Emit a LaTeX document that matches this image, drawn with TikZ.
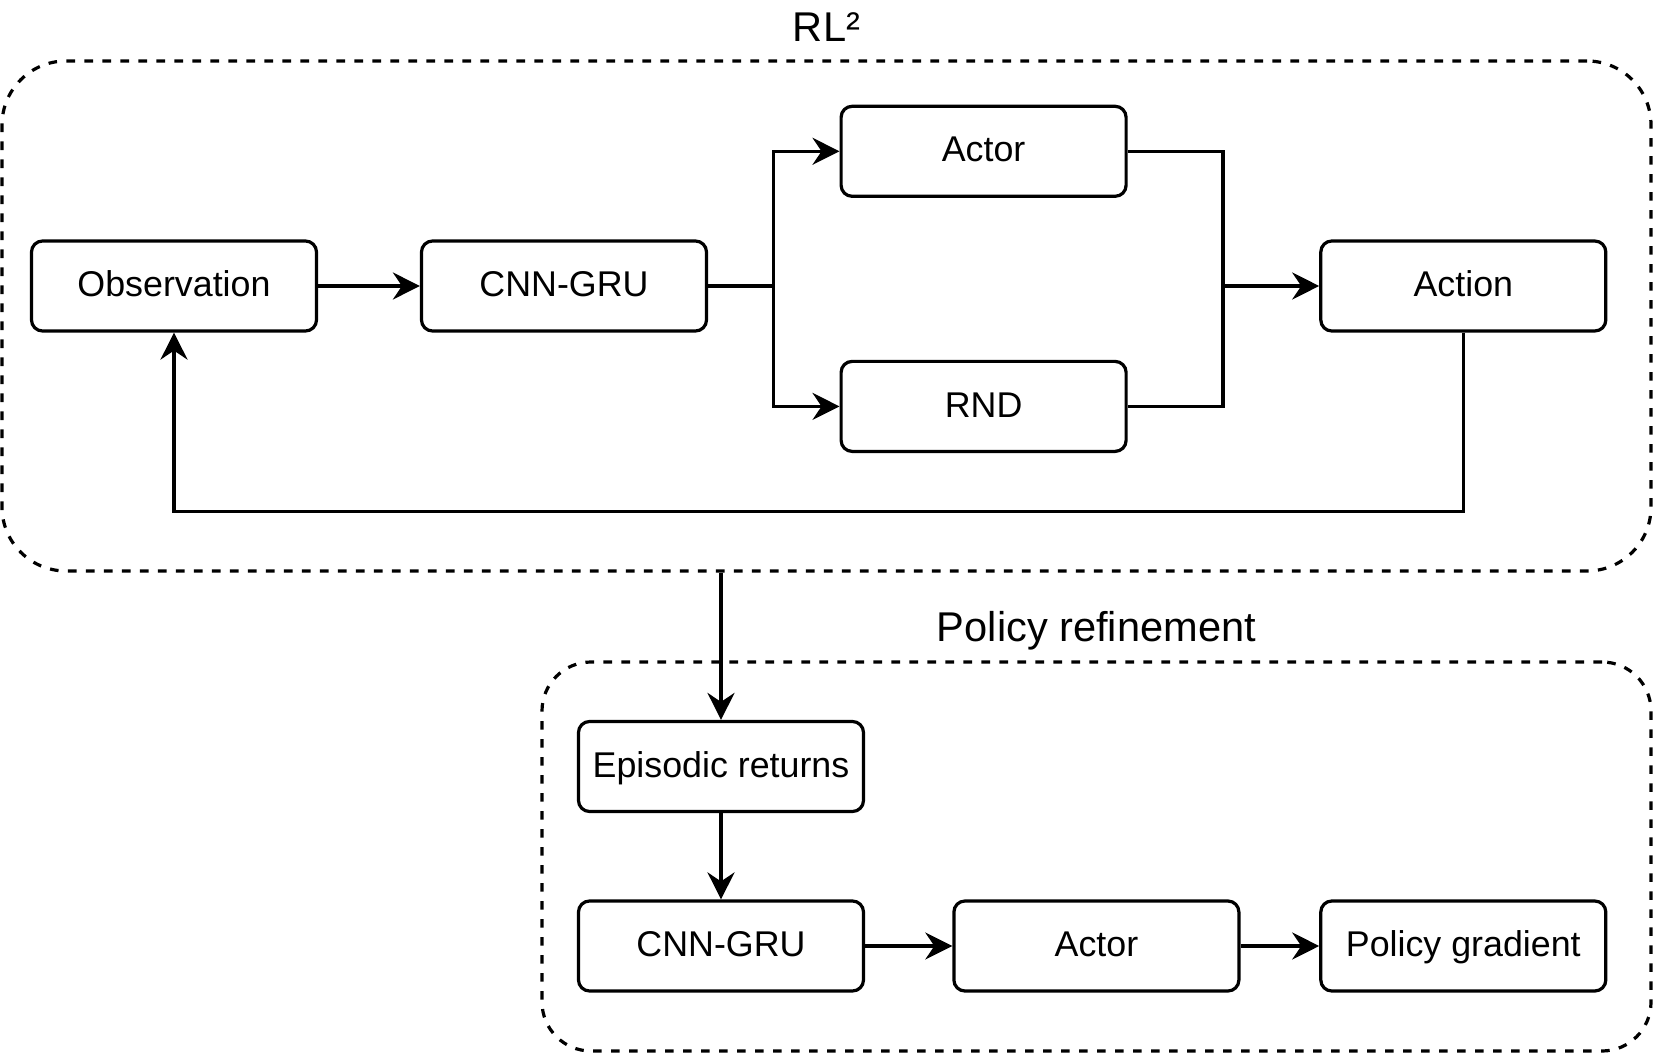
\documentclass[tikz,border=0pt]{standalone}
\usepackage{fontspec}
\setmainfont{Liberation Sans}
\usetikzlibrary{arrows.meta}
\begin{document}
\begin{tikzpicture}[x=0.5pt,y=-0.5pt, line width=1.6pt, line join=miter,
  box/.style={draw, line width=1.6pt, rounded corners=5.5pt, minimum width=142.5pt, minimum height=45pt,
    inner sep=0pt, text height=12.5pt, text depth=1.8pt, font=\fontsize{17.9}{21}\selectfont},
  group/.style={draw, dash pattern=on 4.3pt off 4.7pt, line width=1.6pt, inner sep=0pt},
  grouptitle/.style={anchor=base, inner sep=0pt, font=\fontsize{20.8}{24}\selectfont},
  conn/.style={draw, line width=1.6pt},
  arr/.style={conn, -{Stealth[length=13.5pt,width=13.5pt,inset=4.5pt]}}]
\useasboundingbox (0,0) rectangle (1653,1053);
% groups
\node[group, rounded corners=32pt, minimum width=824.5pt, minimum height=255pt] (rl) at (826.5,316) {};
\node[group, rounded corners=24.5pt, minimum width=554.5pt, minimum height=194.5pt] (pr) at (1096.5,856.5) {};
\node[grouptitle] (rlt) at (826.5,41.7) {RL²};
\node[grouptitle] (prt) at (1096.5,641.7) {Policy refinement};
% top nodes
\node[box] (obs) at (174,286) {Observation};
\node[box] (cnn1) at (564,286) {CNN-GRU};
\node[box] (actor1) at (983.6,151.3) {Actor};
\node[box] (rnd) at (983.6,406.4) {RND};
\node[box] (action) at (1463.3,286) {Action};
% bottom nodes
\node[box] (er) at (721,766.5) {Episodic returns};
\node[box] (cnn2) at (721,946) {CNN-GRU};
\node[box] (actor2) at (1096.4,946) {Actor};
\node[box] (pg) at (1463.3,946) {Policy gradient};
% connectors top
\coordinate (s1) at (773.8,286);
\coordinate (m1) at (1222.9,286);
\coordinate (lp) at (1463.3,511.3);
\path[arr] (obs) -- (cnn1);
\path[conn] (cnn1.east) -- (s1);
\path[arr] (s1) |- (actor1.west);
\path[arr] (s1) |- (rnd.west);
\path[conn] (actor1.east) -| (m1) |- (rnd.east);
\path[arr] (m1) -- (action.west);
\path[arr] (action.south) -- (lp) -| (obs.south);
% connectors bottom
\path[arr] (er |- rl.south) -- (er.north);
\path[arr] (er) -- (cnn2);
\path[arr] (cnn2) -- (actor2);
\path[arr] (actor2) -- (pg);
\end{tikzpicture}
\end{document}
